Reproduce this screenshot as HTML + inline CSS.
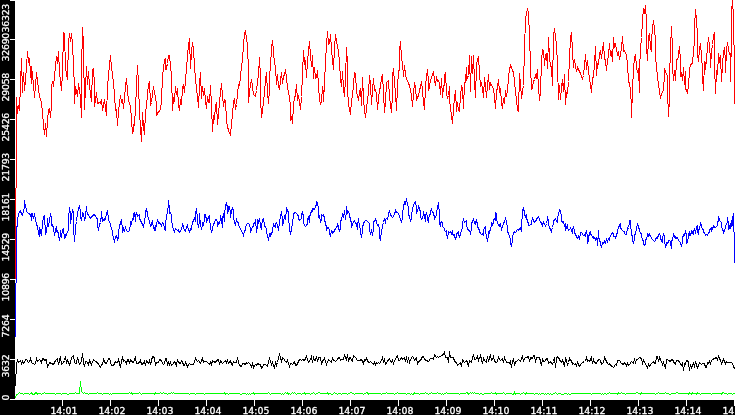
<!DOCTYPE html>
<html><head><meta charset="utf-8"><title>chart</title>
<style>html,body{margin:0;padding:0;background:#fff;overflow:hidden}body{width:735px;height:415px;position:relative}</style>
</head><body>
<svg width="735" height="415" viewBox="0 0 735 415" style="position:absolute;left:0;top:0" shape-rendering="crispEdges">
<rect x="0" y="0" width="735" height="415" fill="#fff"/>
<polyline fill="none" stroke="#ff0000" stroke-width="1" stroke-linejoin="miter" points="16.5,97.5 17.5,113.5 18.5,105.5 19.5,110.5 20.5,84.5 21.5,58.5 22.5,92.5 23.5,72.5 24.5,90.5 25.5,80.5 27.5,51.5 28.5,61.5 29.5,59.5 31.5,83.5 31.5,66.5 33.5,84.5 34.5,97.5 36.5,72.5 38.5,88.5 39.5,96.5 41.5,102.5 42.5,112.5 43.5,124.5 44.5,134.5 45.5,123.5 46.5,136.5 47.5,120.5 48.5,109.5 49.5,108.5 50.5,117.5 51.5,104.5 51.5,86.5 52.5,81.5 53.5,86.5 56.5,56.5 57.5,63.5 58.5,51.5 59.5,72.5 61.5,90.5 62.5,72.5 63.5,32.5 64.5,33.5 65.5,68.5 67.5,79.5 68.5,42.5 69.5,33.5 70.5,41.5 71.5,33.5 72.5,43.5 73.5,66.5 74.5,86.5 74.5,103.5 75.5,86.5 77.5,96.5 78.5,83.5 80.5,97.5 81.5,117.5 81.5,72.5 82.5,27.5 83.5,44.5 84.5,109.5 86.5,66.5 87.5,84.5 88.5,71.5 89.5,86.5 91.5,101.5 92.5,69.5 93.5,68.5 94.5,84.5 94.5,106.5 96.5,92.5 97.5,103.5 99.5,102.5 100.5,103.5 101.5,99.5 102.5,110.5 104.5,99.5 106.5,115.5 107.5,86.5 108.5,75.5 110.5,55.5 111.5,67.5 113.5,82.5 114.5,94.5 115.5,110.5 116.5,109.5 117.5,125.5 118.5,110.5 120.5,95.5 121.5,102.5 122.5,99.5 123.5,108.5 125.5,86.5 126.5,78.5 127.5,90.5 128.5,100.5 130.5,106.5 132.5,133.5 133.5,124.5 133.5,131.5 135.5,110.5 136.5,84.5 137.5,65.5 138.5,84.5 139.5,112.5 140.5,127.5 141.5,141.5 142.5,112.5 143.5,126.5 144.5,134.5 145.5,112.5 146.5,106.5 147.5,94.5 148.5,84.5 149.5,81.5 150.5,104.5 151.5,102.5 153.5,86.5 154.5,92.5 156.5,103.5 156.5,115.5 158.5,111.5 160.5,110.5 161.5,100.5 162.5,76.5 164.5,59.5 165.5,58.5 165.5,69.5 166.5,65.5 166.5,69.5 167.5,63.5 168.5,55.5 169.5,55.5 170.5,66.5 171.5,74.5 172.5,110.5 173.5,98.5 174.5,100.5 175.5,86.5 176.5,94.5 177.5,88.5 178.5,104.5 179.5,110.5 180.5,99.5 181.5,104.5 182.5,88.5 183.5,84.5 184.5,92.5 185.5,80.5 186.5,68.5 187.5,55.5 188.5,45.5 189.5,38.5 190.5,68.5 191.5,51.5 192.5,42.5 193.5,49.5 194.5,66.5 195.5,78.5 196.5,88.5 197.5,96.5 198.5,107.5 199.5,84.5 200.5,72.5 201.5,98.5 202.5,86.5 203.5,95.5 204.5,88.5 205.5,100.5 206.5,108.5 207.5,96.5 208.5,102.5 209.5,96.5 209.5,102.5 210.5,85.5 211.5,106.5 212.5,131.5 213.5,116.5 214.5,118.5 215.5,105.5 216.5,103.5 217.5,124.5 218.5,114.5 219.5,102.5 220.5,92.5 221.5,83.5 222.5,95.5 223.5,106.5 224.5,99.5 225.5,100.5 226.5,121.5 227.5,126.5 228.5,130.5 230.5,135.5 231.5,123.5 232.5,114.5 233.5,102.5 234.5,98.5 235.5,109.5 236.5,104.5 237.5,94.5 238.5,84.5 239.5,85.5 240.5,76.5 241.5,66.5 242.5,59.5 243.5,45.5 244.5,33.5 245.5,30.5 246.5,39.5 247.5,43.5 248.5,74.5 248.5,102.5 249.5,92.5 250.5,84.5 251.5,79.5 252.5,86.5 253.5,94.5 255.5,96.5 256.5,90.5 257.5,82.5 258.5,74.5 259.5,57.5 260.5,78.5 260.5,98.5 261.5,117.5 262.5,110.5 263.5,102.5 264.5,92.5 265.5,80.5 266.5,72.5 267.5,92.5 268.5,103.5 269.5,88.5 269.5,76.5 270.5,66.5 271.5,47.5 272.5,40.5 273.5,51.5 274.5,63.5 275.5,66.5 276.5,84.5 277.5,74.5 278.5,86.5 279.5,89.5 280.5,80.5 281.5,72.5 282.5,83.5 283.5,76.5 284.5,74.5 285.5,69.5 286.5,78.5 287.5,86.5 288.5,92.5 289.5,96.5 290.5,106.5 290.5,120.5 291.5,116.5 292.5,123.5 293.5,104.5 294.5,98.5 295.5,94.5 296.5,84.5 297.5,100.5 298.5,95.5 299.5,102.5 300.5,109.5 301.5,96.5 302.5,73.5 303.5,50.5 304.5,63.5 305.5,61.5 306.5,77.5 307.5,61.5 308.5,51.5 309.5,41.5 310.5,55.5 311.5,66.5 312.5,55.5 313.5,78.5 314.5,67.5 315.5,78.5 316.5,77.5 317.5,70.5 318.5,84.5 319.5,100.5 320.5,103.5 321.5,101.5 322.5,86.5 323.5,93.5 323.5,101.5 324.5,82.5 325.5,61.5 326.5,45.5 327.5,31.5 328.5,44.5 328.5,38.5 329.5,43.5 330.5,34.5 331.5,49.5 332.5,59.5 333.5,69.5 334.5,47.5 335.5,34.5 336.5,40.5 337.5,47.5 338.5,50.5 339.5,63.5 340.5,78.5 341.5,86.5 342.5,71.5 343.5,88.5 344.5,96.5 345.5,78.5 346.5,47.5 347.5,63.5 347.5,88.5 348.5,104.5 350.5,114.5 351.5,100.5 352.5,95.5 353.5,84.5 354.5,72.5 355.5,73.5 356.5,92.5 357.5,95.5 358.5,100.5 359.5,92.5 360.5,88.5 361.5,105.5 362.5,77.5 363.5,98.5 364.5,110.5 365.5,117.5 366.5,108.5 367.5,100.5 368.5,92.5 369.5,75.5 370.5,84.5 371.5,104.5 372.5,90.5 373.5,78.5 374.5,90.5 375.5,89.5 376.5,94.5 377.5,109.5 378.5,98.5 379.5,90.5 380.5,86.5 381.5,77.5 382.5,74.5 383.5,92.5 384.5,112.5 385.5,102.5 386.5,82.5 387.5,81.5 388.5,80.5 389.5,96.5 390.5,104.5 391.5,112.5 392.5,94.5 392.5,76.5 393.5,68.5 394.5,82.5 395.5,92.5 396.5,110.5 397.5,86.5 398.5,72.5 399.5,68.5 399.5,50.5 400.5,41.5 401.5,58.5 402.5,63.5 403.5,76.5 404.5,65.5 405.5,73.5 406.5,79.5 407.5,80.5 408.5,83.5 409.5,85.5 410.5,90.5 411.5,94.5 412.5,106.5 413.5,94.5 414.5,82.5 415.5,86.5 416.5,100.5 417.5,97.5 418.5,95.5 419.5,90.5 420.5,86.5 421.5,81.5 422.5,90.5 423.5,102.5 424.5,109.5 425.5,86.5 426.5,76.5 427.5,69.5 428.5,82.5 428.5,90.5 429.5,86.5 430.5,80.5 431.5,77.5 432.5,74.5 433.5,71.5 434.5,79.5 435.5,85.5 436.5,76.5 437.5,81.5 438.5,80.5 439.5,83.5 440.5,94.5 441.5,78.5 442.5,97.5 443.5,86.5 444.5,84.5 444.5,75.5 445.5,73.5 446.5,92.5 447.5,98.5 448.5,95.5 449.5,86.5 449.5,98.5 450.5,108.5 451.5,115.5 452.5,123.5 453.5,108.5 454.5,98.5 455.5,90.5 456.5,111.5 457.5,102.5 458.5,110.5 459.5,111.5 460.5,95.5 461.5,86.5 462.5,88.5 463.5,108.5 464.5,82.5 465.5,82.5 465.5,81.5 466.5,67.5 466.5,80.5 467.5,77.5 468.5,75.5 469.5,55.5 470.5,91.5 471.5,56.5 472.5,73.5 473.5,55.5 474.5,81.5 475.5,97.5 476.5,65.5 477.5,59.5 478.5,56.5 479.5,73.5 480.5,85.5 481.5,83.5 482.5,88.5 483.5,97.5 484.5,77.5 485.5,85.5 486.5,97.5 487.5,85.5 488.5,74.5 489.5,89.5 490.5,83.5 491.5,85.5 492.5,86.5 493.5,89.5 494.5,96.5 495.5,108.5 496.5,91.5 497.5,87.5 498.5,79.5 499.5,91.5 500.5,89.5 501.5,102.5 502.5,108.5 503.5,98.5 504.5,103.5 505.5,90.5 506.5,96.5 507.5,90.5 508.5,77.5 509.5,69.5 510.5,65.5 511.5,67.5 512.5,70.5 513.5,72.5 514.5,81.5 515.5,92.5 516.5,99.5 517.5,109.5 518.5,111.5 519.5,73.5 520.5,83.5 521.5,98.5 522.5,91.5 523.5,85.5 524.5,47.5 525.5,20.5 526.5,12.5 527.5,9.5 528.5,12.5 529.5,36.5 530.5,65.5 531.5,89.5 532.5,87.5 533.5,81.5 534.5,79.5 535.5,75.5 536.5,77.5 537.5,69.5 538.5,87.5 539.5,100.5 540.5,91.5 541.5,61.5 542.5,49.5 543.5,50.5 544.5,65.5 545.5,54.5 546.5,53.5 547.5,68.5 548.5,37.5 549.5,57.5 550.5,65.5 551.5,67.5 552.5,85.5 553.5,36.5 554.5,28.5 555.5,36.5 556.5,44.5 557.5,64.5 558.5,99.5 559.5,85.5 560.5,99.5 561.5,87.5 562.5,79.5 563.5,91.5 564.5,74.5 565.5,104.5 566.5,92.5 567.5,93.5 568.5,81.5 569.5,57.5 570.5,38.5 571.5,32.5 572.5,51.5 573.5,67.5 574.5,59.5 575.5,65.5 576.5,71.5 577.5,67.5 578.5,69.5 579.5,71.5 580.5,73.5 581.5,76.5 582.5,78.5 583.5,75.5 584.5,65.5 585.5,54.5 586.5,69.5 587.5,60.5 588.5,71.5 589.5,77.5 590.5,85.5 591.5,92.5 592.5,78.5 593.5,76.5 594.5,63.5 595.5,46.5 596.5,75.5 597.5,63.5 598.5,64.5 599.5,53.5 600.5,51.5 601.5,58.5 602.5,49.5 603.5,42.5 604.5,58.5 605.5,60.5 606.5,70.5 607.5,60.5 608.5,55.5 609.5,43.5 610.5,55.5 611.5,51.5 612.5,61.5 613.5,37.5 614.5,47.5 615.5,44.5 616.5,49.5 617.5,54.5 618.5,52.5 619.5,59.5 620.5,54.5 621.5,47.5 622.5,36.5 623.5,51.5 623.5,48.5 625.5,53.5 626.5,54.5 627.5,65.5 628.5,80.5 629.5,84.5 630.5,89.5 631.5,107.5 631.5,117.5 632.5,89.5 633.5,69.5 634.5,57.5 635.5,55.5 636.5,66.5 637.5,72.5 638.5,68.5 639.5,92.5 639.5,70.5 640.5,48.5 641.5,37.5 642.5,20.5 643.5,8.5 644.5,13.5 645.5,5.5 646.5,22.5 646.5,47.5 647.5,60.5 648.5,37.5 649.5,33.5 650.5,48.5 651.5,51.5 651.5,40.5 652.5,28.5 653.5,20.5 654.5,28.5 655.5,41.5 655.5,55.5 656.5,67.5 657.5,76.5 658.5,84.5 659.5,91.5 660.5,98.5 661.5,93.5 662.5,92.5 663.5,89.5 664.5,75.5 664.5,68.5 665.5,71.5 667.5,76.5 667.5,91.5 668.5,116.5 669.5,97.5 669.5,78.5 670.5,48.5 671.5,26.5 672.5,49.5 672.5,67.5 673.5,80.5 674.5,70.5 675.5,80.5 676.5,60.5 677.5,58.5 678.5,57.5 678.5,53.5 679.5,46.5 680.5,60.5 680.5,76.5 681.5,72.5 682.5,80.5 683.5,67.5 684.5,84.5 685.5,71.5 685.5,88.5 686.5,90.5 687.5,93.5 688.5,85.5 689.5,70.5 690.5,64.5 692.5,63.5 693.5,50.5 694.5,42.5 694.5,26.5 695.5,9.5 696.5,19.5 697.5,36.5 697.5,54.5 698.5,61.5 699.5,49.5 700.5,43.5 701.5,56.5 702.5,69.5 702.5,76.5 703.5,90.5 704.5,61.5 705.5,62.5 705.5,69.5 706.5,58.5 707.5,47.5 708.5,37.5 709.5,45.5 710.5,59.5 710.5,67.5 711.5,51.5 712.5,44.5 713.5,35.5 714.5,32.5 714.5,63.5 715.5,93.5 716.5,70.5 717.5,74.5 718.5,53.5 719.5,60.5 720.5,65.5 720.5,55.5 721.5,81.5 722.5,64.5 723.5,52.5 724.5,47.5 725.5,61.5 725.5,72.5 726.5,50.5 727.5,42.5 728.5,49.5 729.5,54.5 730.5,53.5 730.5,81.5 731.5,34.5 731.5,13.5 732.5,-1.5 733.5,19.5 734.5,69.5 734.5,70.5 734.5,103.5"/>
<polyline fill="none" stroke="#0000ff" stroke-width="1" stroke-linejoin="miter" points="17.5,226.5 17.5,219.5 18.5,214.5 19.5,211.5 20.5,210.5 21.5,214.5 22.5,215.5 23.5,211.5 24.5,206.5 24.5,200.5 25.5,206.5 25.5,204.5 26.5,211.5 27.5,212.5 28.5,213.5 29.5,213.5 30.5,215.5 31.5,213.5 31.5,220.5 32.5,213.5 33.5,218.5 34.5,213.5 35.5,219.5 35.5,218.5 36.5,224.5 37.5,226.5 38.5,232.5 39.5,236.5 39.5,227.5 40.5,231.5 41.5,235.5 42.5,223.5 42.5,224.5 43.5,216.5 44.5,215.5 45.5,234.5 46.5,230.5 47.5,223.5 47.5,218.5 48.5,226.5 49.5,220.5 50.5,213.5 51.5,219.5 51.5,225.5 52.5,224.5 53.5,228.5 54.5,235.5 55.5,230.5 56.5,226.5 56.5,231.5 57.5,230.5 58.5,234.5 59.5,240.5 60.5,233.5 60.5,230.5 61.5,237.5 62.5,229.5 63.5,228.5 64.5,238.5 65.5,234.5 65.5,237.5 66.5,234.5 67.5,231.5 68.5,230.5 68.5,218.5 69.5,207.5 70.5,214.5 70.5,223.5 71.5,216.5 72.5,209.5 73.5,213.5 73.5,227.5 74.5,241.5 75.5,228.5 75.5,227.5 76.5,221.5 77.5,213.5 78.5,208.5 79.5,206.5 80.5,211.5 80.5,216.5 81.5,220.5 82.5,213.5 83.5,215.5 83.5,213.5 84.5,220.5 85.5,216.5 86.5,206.5 86.5,210.5 87.5,213.5 88.5,215.5 89.5,216.5 90.5,218.5 91.5,217.5 92.5,215.5 94.5,214.5 95.5,216.5 96.5,217.5 97.5,219.5 97.5,224.5 98.5,230.5 99.5,224.5 100.5,222.5 101.5,214.5 101.5,211.5 102.5,221.5 103.5,220.5 104.5,218.5 104.5,220.5 105.5,219.5 106.5,213.5 107.5,211.5 108.5,218.5 108.5,219.5 109.5,222.5 110.5,223.5 111.5,229.5 112.5,230.5 112.5,234.5 113.5,237.5 114.5,242.5 115.5,236.5 116.5,235.5 117.5,239.5 118.5,237.5 118.5,231.5 119.5,226.5 120.5,222.5 121.5,220.5 122.5,229.5 122.5,232.5 123.5,228.5 124.5,230.5 125.5,227.5 126.5,230.5 127.5,231.5 128.5,231.5 129.5,230.5 130.5,224.5 130.5,221.5 131.5,224.5 132.5,218.5 133.5,219.5 133.5,213.5 134.5,212.5 135.5,221.5 135.5,216.5 136.5,212.5 137.5,216.5 138.5,215.5 139.5,214.5 139.5,218.5 140.5,220.5 141.5,222.5 142.5,224.5 143.5,227.5 144.5,221.5 145.5,214.5 145.5,211.5 146.5,209.5 147.5,213.5 147.5,215.5 148.5,218.5 149.5,221.5 150.5,226.5 151.5,225.5 151.5,223.5 152.5,221.5 153.5,227.5 154.5,229.5 155.5,225.5 155.5,230.5 156.5,224.5 157.5,219.5 158.5,223.5 159.5,222.5 160.5,224.5 160.5,223.5 161.5,225.5 162.5,222.5 163.5,223.5 164.5,228.5 165.5,230.5 165.5,224.5 166.5,216.5 167.5,211.5 168.5,204.5 168.5,200.5 169.5,208.5 169.5,213.5 170.5,212.5 171.5,215.5 171.5,219.5 172.5,226.5 173.5,229.5 174.5,231.5 175.5,228.5 176.5,229.5 177.5,230.5 178.5,229.5 178.5,231.5 179.5,232.5 180.5,230.5 181.5,229.5 182.5,225.5 182.5,223.5 183.5,227.5 184.5,230.5 185.5,231.5 186.5,227.5 187.5,224.5 187.5,227.5 188.5,228.5 189.5,232.5 190.5,228.5 191.5,229.5 191.5,227.5 192.5,222.5 193.5,220.5 194.5,218.5 195.5,221.5 195.5,214.5 196.5,208.5 197.5,218.5 197.5,222.5 198.5,227.5 199.5,220.5 199.5,213.5 200.5,225.5 201.5,228.5 202.5,225.5 202.5,222.5 203.5,224.5 204.5,219.5 204.5,214.5 205.5,214.5 206.5,220.5 206.5,222.5 207.5,219.5 208.5,217.5 209.5,215.5 209.5,219.5 210.5,226.5 211.5,232.5 212.5,229.5 212.5,227.5 213.5,224.5 214.5,222.5 215.5,219.5 216.5,219.5 217.5,222.5 217.5,226.5 218.5,222.5 219.5,223.5 220.5,219.5 220.5,215.5 221.5,219.5 222.5,227.5 222.5,219.5 223.5,213.5 224.5,221.5 224.5,213.5 225.5,206.5 226.5,202.5 227.5,208.5 227.5,213.5 228.5,210.5 228.5,206.5 229.5,206.5 230.5,213.5 230.5,217.5 231.5,210.5 232.5,208.5 233.5,210.5 233.5,216.5 234.5,222.5 235.5,224.5 236.5,219.5 237.5,222.5 238.5,222.5 238.5,224.5 239.5,227.5 240.5,228.5 241.5,231.5 242.5,232.5 243.5,235.5 244.5,231.5 245.5,229.5 245.5,227.5 246.5,224.5 247.5,223.5 248.5,223.5 249.5,224.5 250.5,229.5 250.5,232.5 251.5,228.5 252.5,227.5 253.5,225.5 253.5,224.5 254.5,222.5 255.5,222.5 255.5,219.5 256.5,232.5 257.5,226.5 257.5,219.5 258.5,222.5 259.5,218.5 260.5,225.5 261.5,229.5 261.5,227.5 262.5,219.5 263.5,218.5 264.5,225.5 265.5,227.5 266.5,228.5 266.5,231.5 267.5,236.5 268.5,239.5 269.5,234.5 270.5,236.5 270.5,233.5 271.5,234.5 272.5,230.5 273.5,224.5 274.5,226.5 275.5,227.5 275.5,223.5 276.5,222.5 277.5,225.5 278.5,230.5 279.5,222.5 279.5,221.5 280.5,216.5 281.5,211.5 282.5,219.5 282.5,225.5 283.5,221.5 284.5,216.5 285.5,218.5 286.5,209.5 286.5,207.5 287.5,210.5 288.5,212.5 288.5,219.5 289.5,226.5 289.5,230.5 290.5,233.5 291.5,229.5 292.5,222.5 293.5,216.5 293.5,214.5 294.5,212.5 295.5,212.5 296.5,213.5 297.5,214.5 298.5,216.5 298.5,218.5 299.5,220.5 300.5,219.5 301.5,218.5 301.5,214.5 302.5,211.5 303.5,217.5 303.5,222.5 304.5,225.5 305.5,226.5 306.5,225.5 307.5,223.5 307.5,219.5 308.5,216.5 309.5,222.5 309.5,217.5 310.5,213.5 311.5,211.5 312.5,208.5 312.5,211.5 313.5,208.5 314.5,209.5 315.5,206.5 316.5,204.5 316.5,201.5 317.5,202.5 318.5,209.5 318.5,216.5 319.5,218.5 319.5,215.5 320.5,222.5 321.5,218.5 321.5,214.5 322.5,215.5 323.5,214.5 324.5,218.5 324.5,219.5 325.5,223.5 326.5,227.5 326.5,230.5 327.5,227.5 328.5,227.5 329.5,230.5 329.5,233.5 330.5,236.5 331.5,230.5 332.5,231.5 332.5,233.5 333.5,232.5 334.5,230.5 335.5,228.5 336.5,227.5 337.5,225.5 337.5,223.5 338.5,227.5 339.5,231.5 340.5,227.5 340.5,222.5 341.5,218.5 342.5,215.5 342.5,213.5 343.5,217.5 344.5,211.5 344.5,210.5 345.5,219.5 346.5,211.5 346.5,206.5 347.5,213.5 347.5,210.5 348.5,212.5 349.5,213.5 349.5,215.5 350.5,219.5 351.5,223.5 351.5,227.5 352.5,224.5 353.5,221.5 354.5,220.5 355.5,223.5 355.5,222.5 356.5,224.5 357.5,229.5 357.5,225.5 358.5,218.5 358.5,220.5 359.5,225.5 360.5,230.5 360.5,233.5 361.5,236.5 362.5,231.5 362.5,227.5 363.5,223.5 364.5,221.5 365.5,220.5 366.5,220.5 366.5,220.5 367.5,221.5 368.5,222.5 369.5,223.5 369.5,228.5 370.5,234.5 371.5,230.5 371.5,229.5 372.5,235.5 373.5,228.5 373.5,222.5 374.5,220.5 375.5,220.5 375.5,219.5 375.5,218.5 376.5,222.5 377.5,225.5 378.5,224.5 379.5,229.5 379.5,236.5 380.5,240.5 381.5,230.5 382.5,227.5 382.5,225.5 383.5,222.5 384.5,218.5 385.5,223.5 385.5,219.5 386.5,218.5 387.5,219.5 388.5,214.5 388.5,213.5 389.5,211.5 390.5,214.5 391.5,216.5 391.5,216.5 392.5,217.5 393.5,216.5 394.5,213.5 395.5,211.5 395.5,209.5 396.5,212.5 397.5,212.5 398.5,213.5 398.5,213.5 399.5,216.5 400.5,219.5 401.5,221.5 402.5,218.5 402.5,213.5 403.5,206.5 404.5,202.5 404.5,201.5 405.5,204.5 406.5,198.5 406.5,198.5 407.5,204.5 408.5,207.5 408.5,213.5 409.5,217.5 410.5,220.5 411.5,218.5 411.5,214.5 412.5,209.5 413.5,204.5 414.5,203.5 414.5,202.5 415.5,201.5 416.5,208.5 416.5,213.5 417.5,210.5 418.5,207.5 418.5,205.5 419.5,208.5 420.5,212.5 420.5,216.5 421.5,219.5 422.5,218.5 423.5,213.5 423.5,211.5 424.5,216.5 425.5,221.5 425.5,215.5 426.5,213.5 427.5,216.5 427.5,218.5 428.5,222.5 428.5,218.5 429.5,215.5 430.5,213.5 430.5,211.5 431.5,209.5 432.5,212.5 432.5,211.5 433.5,213.5 434.5,217.5 434.5,219.5 435.5,216.5 436.5,215.5 436.5,213.5 437.5,206.5 438.5,204.5 438.5,202.5 439.5,214.5 439.5,222.5 440.5,226.5 440.5,222.5 441.5,221.5 442.5,223.5 442.5,226.5 443.5,227.5 444.5,228.5 444.5,230.5 445.5,231.5 446.5,230.5 446.5,234.5 447.5,237.5 448.5,232.5 448.5,231.5 449.5,232.5 450.5,231.5 451.5,233.5 452.5,230.5 452.5,233.5 453.5,235.5 454.5,234.5 454.5,236.5 455.5,238.5 456.5,236.5 456.5,234.5 457.5,232.5 458.5,231.5 458.5,234.5 459.5,236.5 460.5,234.5 460.5,233.5 461.5,230.5 462.5,227.5 462.5,222.5 463.5,219.5 464.5,222.5 464.5,222.5 465.5,221.5 466.5,220.5 466.5,225.5 467.5,228.5 468.5,230.5 468.5,229.5 469.5,230.5 470.5,233.5 471.5,228.5 471.5,223.5 472.5,221.5 473.5,219.5 473.5,219.5 474.5,222.5 475.5,224.5 475.5,222.5 476.5,220.5 477.5,224.5 477.5,226.5 478.5,228.5 479.5,230.5 479.5,231.5 480.5,233.5 481.5,234.5 482.5,233.5 483.5,235.5 483.5,230.5 484.5,227.5 485.5,226.5 485.5,230.5 486.5,236.5 487.5,241.5 488.5,234.5 488.5,231.5 489.5,233.5 489.5,232.5 490.5,228.5 491.5,225.5 491.5,222.5 492.5,224.5 493.5,222.5 493.5,219.5 494.5,218.5 495.5,220.5 495.5,218.5 495.5,212.5 496.5,214.5 496.5,219.5 497.5,222.5 498.5,225.5 499.5,226.5 499.5,224.5 500.5,223.5 501.5,230.5 501.5,228.5 502.5,226.5 503.5,223.5 504.5,221.5 505.5,218.5 505.5,217.5 506.5,222.5 507.5,227.5 507.5,230.5 508.5,234.5 508.5,233.5 509.5,236.5 510.5,239.5 510.5,243.5 511.5,245.5 512.5,240.5 512.5,236.5 513.5,233.5 514.5,231.5 515.5,232.5 516.5,231.5 516.5,230.5 517.5,229.5 518.5,230.5 519.5,228.5 520.5,229.5 520.5,227.5 521.5,231.5 521.5,223.5 522.5,214.5 522.5,210.5 523.5,208.5 524.5,212.5 524.5,214.5 525.5,216.5 526.5,214.5 526.5,217.5 527.5,221.5 528.5,223.5 528.5,225.5 529.5,225.5 530.5,224.5 531.5,224.5 531.5,221.5 532.5,218.5 533.5,220.5 534.5,222.5 534.5,222.5 535.5,221.5 536.5,219.5 537.5,217.5 538.5,216.5 538.5,216.5 539.5,219.5 540.5,222.5 540.5,221.5 541.5,223.5 542.5,226.5 542.5,224.5 543.5,222.5 544.5,224.5 545.5,225.5 545.5,226.5 546.5,223.5 547.5,219.5 547.5,216.5 548.5,222.5 548.5,225.5 549.5,226.5 549.5,227.5 550.5,229.5 551.5,232.5 551.5,230.5 552.5,227.5 553.5,223.5 553.5,221.5 554.5,219.5 555.5,218.5 555.5,219.5 556.5,220.5 557.5,222.5 557.5,218.5 558.5,213.5 559.5,210.5 559.5,209.5 560.5,211.5 561.5,216.5 561.5,220.5 562.5,222.5 563.5,221.5 563.5,222.5 564.5,225.5 565.5,223.5 565.5,230.5 566.5,227.5 567.5,224.5 567.5,227.5 568.5,230.5 569.5,229.5 570.5,228.5 570.5,227.5 571.5,230.5 572.5,233.5 572.5,229.5 573.5,227.5 574.5,230.5 574.5,232.5 575.5,234.5 576.5,236.5 576.5,237.5 577.5,238.5 578.5,236.5 578.5,235.5 579.5,238.5 580.5,234.5 580.5,232.5 581.5,232.5 582.5,233.5 582.5,234.5 583.5,235.5 584.5,234.5 585.5,236.5 585.5,233.5 586.5,230.5 587.5,237.5 587.5,243.5 588.5,240.5 588.5,237.5 589.5,233.5 590.5,231.5 590.5,233.5 591.5,235.5 592.5,236.5 593.5,238.5 593.5,236.5 594.5,237.5 595.5,239.5 595.5,240.5 596.5,238.5 597.5,241.5 597.5,245.5 598.5,230.5 598.5,236.5 599.5,240.5 600.5,242.5 600.5,244.5 601.5,246.5 602.5,243.5 602.5,242.5 603.5,243.5 604.5,241.5 604.5,240.5 605.5,242.5 606.5,239.5 606.5,238.5 607.5,241.5 608.5,238.5 608.5,239.5 609.5,240.5 609.5,238.5 610.5,235.5 611.5,234.5 611.5,233.5 612.5,232.5 613.5,234.5 613.5,236.5 614.5,236.5 615.5,236.5 615.5,236.5 615.5,238.5 616.5,234.5 617.5,232.5 617.5,230.5 618.5,227.5 619.5,225.5 620.5,223.5 620.5,227.5 621.5,229.5 622.5,230.5 623.5,231.5 624.5,231.5 624.5,233.5 625.5,234.5 626.5,234.5 627.5,227.5 627.5,230.5 628.5,227.5 629.5,223.5 629.5,220.5 630.5,220.5 630.5,225.5 631.5,232.5 632.5,238.5 632.5,240.5 633.5,242.5 634.5,239.5 634.5,236.5 635.5,232.5 636.5,229.5 636.5,227.5 637.5,224.5 638.5,226.5 638.5,227.5 639.5,229.5 639.5,231.5 640.5,232.5 641.5,234.5 641.5,236.5 642.5,239.5 643.5,241.5 643.5,244.5 644.5,245.5 645.5,243.5 645.5,240.5 646.5,238.5 647.5,235.5 647.5,233.5 648.5,235.5 649.5,233.5 649.5,234.5 650.5,236.5 651.5,237.5 651.5,238.5 652.5,239.5 653.5,240.5 653.5,240.5 654.5,241.5 655.5,240.5 655.5,239.5 656.5,237.5 657.5,238.5 657.5,237.5 658.5,235.5 658.5,234.5 659.5,233.5 660.5,236.5 660.5,238.5 661.5,240.5 662.5,242.5 662.5,237.5 663.5,234.5 664.5,236.5 664.5,240.5 665.5,247.5 666.5,243.5 666.5,242.5 667.5,243.5 668.5,241.5 668.5,240.5 669.5,240.5 670.5,241.5 670.5,243.5 671.5,248.5 671.5,242.5 672.5,238.5 673.5,235.5 673.5,233.5 674.5,236.5 675.5,238.5 675.5,236.5 676.5,238.5 677.5,237.5 677.5,238.5 678.5,239.5 678.5,240.5 679.5,241.5 680.5,242.5 680.5,243.5 681.5,245.5 682.5,242.5 682.5,238.5 683.5,234.5 684.5,233.5 684.5,235.5 685.5,230.5 686.5,236.5 686.5,243.5 687.5,242.5 688.5,236.5 688.5,233.5 689.5,235.5 689.5,231.5 690.5,234.5 691.5,232.5 691.5,230.5 692.5,232.5 693.5,234.5 693.5,231.5 694.5,229.5 695.5,231.5 695.5,233.5 696.5,227.5 697.5,225.5 697.5,230.5 698.5,234.5 698.5,231.5 699.5,227.5 700.5,224.5 700.5,222.5 701.5,225.5 701.5,227.5 702.5,228.5 703.5,230.5 703.5,231.5 704.5,233.5 705.5,234.5 705.5,235.5 706.5,234.5 707.5,235.5 707.5,234.5 708.5,233.5 709.5,231.5 709.5,230.5 710.5,228.5 711.5,227.5 711.5,231.5 712.5,228.5 713.5,226.5 713.5,225.5 714.5,227.5 715.5,227.5 715.5,227.5 716.5,226.5 717.5,225.5 717.5,223.5 718.5,219.5 718.5,216.5 719.5,219.5 719.5,220.5 720.5,221.5 721.5,222.5 721.5,226.5 722.5,229.5 723.5,231.5 723.5,233.5 724.5,230.5 725.5,227.5 725.5,225.5 726.5,224.5 727.5,221.5 727.5,217.5 728.5,224.5 728.5,229.5 729.5,225.5 729.5,228.5 730.5,223.5 730.5,228.5 731.5,224.5 731.5,220.5 732.5,225.5 732.5,218.5 733.5,213.5 733.5,224.5 734.5,238.5 734.5,262.5"/>
<polyline fill="none" stroke="#000000" stroke-width="1" stroke-linejoin="miter" points="16.5,363.5 17.5,360.5 18.5,362.5 19.5,361.5 20.5,360.5 21.5,363.5 22.5,361.5 23.5,363.5 24.5,362.5 25.5,359.5 26.5,359.5 28.5,362.5 29.5,361.5 30.5,358.5 31.5,362.5 32.5,363.5 33.5,363.5 34.5,364.5 35.5,363.5 36.5,358.5 37.5,361.5 39.5,359.5 40.5,360.5 41.5,362.5 42.5,358.5 43.5,358.5 44.5,360.5 46.5,359.5 47.5,367.5 49.5,362.5 51.5,363.5 53.5,364.5 54.5,362.5 55.5,360.5 57.5,358.5 58.5,364.5 60.5,356.5 61.5,364.5 63.5,362.5 64.5,360.5 65.5,356.5 66.5,363.5 67.5,360.5 69.5,364.5 70.5,362.5 71.5,357.5 73.5,355.5 74.5,362.5 75.5,363.5 76.5,363.5 77.5,357.5 79.5,364.5 81.5,361.5 82.5,353.5 83.5,362.5 84.5,366.5 85.5,361.5 86.5,361.5 87.5,362.5 88.5,364.5 89.5,360.5 91.5,364.5 93.5,359.5 95.5,361.5 97.5,362.5 98.5,364.5 100.5,367.5 101.5,364.5 102.5,364.5 103.5,359.5 104.5,361.5 105.5,363.5 107.5,362.5 108.5,358.5 109.5,358.5 111.5,365.5 113.5,365.5 115.5,361.5 116.5,362.5 117.5,362.5 118.5,359.5 119.5,363.5 120.5,367.5 121.5,360.5 122.5,357.5 123.5,361.5 124.5,360.5 125.5,361.5 126.5,363.5 127.5,359.5 128.5,359.5 129.5,363.5 130.5,359.5 131.5,360.5 132.5,362.5 133.5,362.5 134.5,359.5 135.5,357.5 136.5,363.5 137.5,363.5 139.5,362.5 140.5,360.5 141.5,364.5 143.5,363.5 144.5,361.5 145.5,365.5 146.5,360.5 148.5,363.5 149.5,360.5 150.5,364.5 152.5,356.5 154.5,357.5 155.5,365.5 156.5,362.5 158.5,362.5 159.5,359.5 161.5,360.5 162.5,363.5 163.5,364.5 164.5,363.5 165.5,358.5 166.5,358.5 167.5,364.5 168.5,362.5 169.5,364.5 170.5,362.5 171.5,365.5 172.5,364.5 174.5,361.5 176.5,365.5 177.5,359.5 178.5,362.5 180.5,363.5 181.5,360.5 182.5,361.5 183.5,365.5 184.5,365.5 185.5,362.5 187.5,366.5 188.5,364.5 189.5,363.5 190.5,364.5 192.5,364.5 193.5,364.5 195.5,358.5 196.5,360.5 197.5,361.5 198.5,360.5 200.5,363.5 201.5,360.5 202.5,358.5 203.5,362.5 204.5,361.5 206.5,361.5 207.5,362.5 209.5,364.5 210.5,362.5 211.5,364.5 212.5,360.5 213.5,361.5 215.5,362.5 216.5,360.5 218.5,359.5 219.5,364.5 220.5,360.5 222.5,363.5 224.5,361.5 225.5,360.5 226.5,362.5 227.5,360.5 228.5,363.5 230.5,360.5 231.5,364.5 232.5,365.5 233.5,361.5 234.5,362.5 235.5,362.5 236.5,362.5 237.5,358.5 239.5,365.5 241.5,366.5 242.5,363.5 243.5,363.5 245.5,364.5 246.5,362.5 247.5,363.5 248.5,362.5 249.5,363.5 250.5,364.5 251.5,366.5 252.5,363.5 253.5,367.5 254.5,365.5 255.5,364.5 256.5,365.5 257.5,363.5 259.5,364.5 260.5,364.5 261.5,368.5 262.5,367.5 263.5,364.5 265.5,364.5 267.5,366.5 269.5,358.5 270.5,361.5 271.5,364.5 272.5,362.5 274.5,368.5 275.5,361.5 276.5,365.5 277.5,362.5 279.5,354.5 281.5,361.5 282.5,357.5 283.5,358.5 285.5,361.5 286.5,362.5 287.5,360.5 288.5,363.5 289.5,366.5 290.5,363.5 291.5,363.5 292.5,364.5 294.5,361.5 295.5,365.5 296.5,365.5 297.5,363.5 299.5,359.5 300.5,359.5 301.5,360.5 302.5,359.5 304.5,360.5 306.5,356.5 307.5,359.5 308.5,362.5 309.5,361.5 311.5,356.5 312.5,362.5 313.5,357.5 314.5,360.5 315.5,360.5 316.5,356.5 317.5,361.5 318.5,357.5 320.5,357.5 321.5,364.5 322.5,360.5 323.5,360.5 324.5,358.5 325.5,361.5 326.5,364.5 328.5,359.5 330.5,361.5 331.5,362.5 332.5,358.5 333.5,360.5 334.5,360.5 335.5,361.5 336.5,360.5 337.5,359.5 338.5,357.5 339.5,357.5 340.5,360.5 341.5,359.5 343.5,359.5 344.5,355.5 346.5,359.5 347.5,354.5 348.5,361.5 349.5,357.5 350.5,357.5 351.5,360.5 352.5,361.5 353.5,355.5 355.5,357.5 357.5,360.5 359.5,360.5 361.5,359.5 363.5,363.5 364.5,359.5 365.5,360.5 366.5,358.5 368.5,362.5 369.5,362.5 370.5,361.5 371.5,362.5 373.5,364.5 374.5,362.5 375.5,364.5 376.5,362.5 377.5,363.5 378.5,362.5 379.5,363.5 380.5,362.5 382.5,357.5 383.5,362.5 384.5,358.5 385.5,364.5 387.5,361.5 388.5,359.5 389.5,358.5 390.5,361.5 391.5,362.5 392.5,360.5 393.5,363.5 395.5,358.5 397.5,355.5 398.5,360.5 399.5,360.5 401.5,357.5 402.5,359.5 404.5,357.5 405.5,361.5 406.5,356.5 407.5,362.5 408.5,357.5 409.5,362.5 410.5,359.5 412.5,356.5 413.5,357.5 414.5,360.5 416.5,357.5 417.5,363.5 418.5,361.5 420.5,360.5 422.5,356.5 423.5,356.5 424.5,359.5 426.5,360.5 428.5,361.5 430.5,358.5 432.5,358.5 433.5,359.5 434.5,354.5 436.5,357.5 437.5,356.5 438.5,357.5 439.5,356.5 440.5,356.5 441.5,355.5 443.5,354.5 444.5,352.5 445.5,357.5 447.5,357.5 448.5,362.5 449.5,351.5 450.5,357.5 451.5,357.5 453.5,357.5 454.5,361.5 456.5,362.5 457.5,365.5 459.5,363.5 460.5,362.5 461.5,366.5 462.5,359.5 464.5,362.5 465.5,361.5 466.5,360.5 467.5,362.5 468.5,366.5 469.5,360.5 470.5,361.5 471.5,362.5 472.5,358.5 473.5,354.5 474.5,359.5 475.5,359.5 476.5,358.5 477.5,356.5 478.5,360.5 480.5,355.5 481.5,359.5 482.5,363.5 483.5,358.5 484.5,360.5 486.5,362.5 487.5,356.5 488.5,361.5 489.5,357.5 490.5,355.5 491.5,360.5 492.5,359.5 493.5,356.5 494.5,361.5 496.5,362.5 497.5,361.5 498.5,357.5 499.5,359.5 500.5,360.5 502.5,358.5 503.5,362.5 504.5,357.5 506.5,362.5 507.5,362.5 508.5,362.5 509.5,363.5 510.5,361.5 511.5,367.5 512.5,361.5 513.5,358.5 514.5,365.5 515.5,361.5 516.5,361.5 518.5,359.5 520.5,361.5 522.5,355.5 523.5,361.5 524.5,358.5 525.5,357.5 526.5,357.5 528.5,356.5 529.5,361.5 530.5,357.5 532.5,358.5 533.5,355.5 534.5,355.5 535.5,362.5 536.5,357.5 537.5,357.5 539.5,357.5 541.5,365.5 542.5,359.5 543.5,361.5 544.5,361.5 545.5,360.5 546.5,358.5 547.5,358.5 548.5,363.5 550.5,361.5 551.5,363.5 552.5,364.5 553.5,361.5 554.5,357.5 555.5,367.5 556.5,358.5 557.5,356.5 558.5,357.5 560.5,361.5 561.5,362.5 562.5,360.5 563.5,362.5 564.5,366.5 565.5,357.5 567.5,364.5 568.5,362.5 569.5,358.5 570.5,360.5 571.5,360.5 572.5,364.5 573.5,363.5 574.5,364.5 575.5,363.5 576.5,365.5 577.5,362.5 578.5,364.5 579.5,366.5 581.5,363.5 582.5,362.5 584.5,361.5 585.5,360.5 586.5,357.5 587.5,361.5 588.5,360.5 589.5,361.5 591.5,357.5 592.5,363.5 593.5,359.5 594.5,362.5 596.5,363.5 597.5,360.5 599.5,359.5 600.5,360.5 601.5,364.5 603.5,362.5 604.5,357.5 605.5,359.5 606.5,361.5 607.5,363.5 608.5,364.5 609.5,363.5 610.5,365.5 612.5,366.5 613.5,367.5 615.5,364.5 616.5,365.5 617.5,360.5 618.5,360.5 619.5,360.5 621.5,363.5 623.5,364.5 624.5,362.5 625.5,363.5 626.5,365.5 627.5,363.5 628.5,365.5 629.5,364.5 631.5,361.5 633.5,363.5 634.5,359.5 635.5,362.5 636.5,359.5 637.5,359.5 639.5,357.5 641.5,358.5 642.5,363.5 643.5,360.5 644.5,362.5 646.5,365.5 647.5,367.5 648.5,364.5 649.5,366.5 651.5,363.5 652.5,362.5 653.5,361.5 654.5,363.5 655.5,363.5 656.5,356.5 657.5,356.5 658.5,361.5 659.5,357.5 660.5,359.5 662.5,364.5 663.5,362.5 665.5,368.5 666.5,359.5 667.5,359.5 668.5,360.5 670.5,361.5 671.5,359.5 672.5,359.5 674.5,363.5 675.5,364.5 676.5,360.5 678.5,360.5 679.5,362.5 681.5,365.5 682.5,362.5 683.5,370.5 684.5,363.5 685.5,364.5 686.5,360.5 687.5,360.5 688.5,362.5 689.5,370.5 690.5,364.5 691.5,367.5 693.5,363.5 694.5,366.5 695.5,361.5 696.5,365.5 697.5,367.5 698.5,365.5 699.5,362.5 701.5,364.5 702.5,363.5 704.5,363.5 705.5,367.5 706.5,367.5 707.5,362.5 708.5,363.5 709.5,361.5 710.5,363.5 711.5,360.5 712.5,359.5 714.5,358.5 716.5,357.5 717.5,359.5 718.5,356.5 719.5,358.5 720.5,360.5 721.5,363.5 722.5,361.5 723.5,359.5 725.5,363.5 726.5,361.5 727.5,362.5 729.5,362.5 731.5,362.5 733.5,365.5 734.5,369.5"/>
<polyline fill="none" stroke="#00ff00" stroke-width="1" stroke-linejoin="miter" points="16.5,394.5 17.5,394.5 18.5,393.5 19.5,392.5 20.5,393.5 21.5,393.5 22.5,393.5 23.5,394.5 24.5,393.5 25.5,393.5 26.5,393.5 27.5,393.5 28.5,393.5 29.5,394.5 30.5,393.5 31.5,392.5 32.5,394.5 33.5,394.5 34.5,394.5 35.5,392.5 36.5,392.5 37.5,394.5 38.5,393.5 39.5,393.5 40.5,393.5 41.5,394.5 42.5,393.5 43.5,393.5 44.5,392.5 45.5,393.5 46.5,393.5 47.5,393.5 48.5,393.5 49.5,393.5 50.5,393.5 51.5,393.5 52.5,393.5 53.5,393.5 54.5,393.5 55.5,394.5 56.5,393.5 57.5,393.5 58.5,393.5 59.5,393.5 60.5,393.5 61.5,394.5 62.5,393.5 63.5,393.5 64.5,393.5 65.5,393.5 66.5,393.5 67.5,394.5 68.5,394.5 69.5,393.5 70.5,393.5 71.5,393.5 72.5,393.5 73.5,393.5 74.5,393.5 75.5,392.5 76.5,393.5 77.5,393.5 78.5,393.5 79.5,393.5 80.5,381.5 81.5,391.5 82.5,392.5 83.5,393.5 84.5,392.5 85.5,393.5 86.5,393.5 87.5,393.5 88.5,394.5 89.5,393.5 90.5,393.5 91.5,393.5 92.5,393.5 93.5,393.5 94.5,393.5 95.5,393.5 96.5,393.5 97.5,392.5 98.5,393.5 99.5,393.5 100.5,393.5 101.5,393.5 102.5,394.5 103.5,393.5 104.5,393.5 105.5,393.5 106.5,393.5 107.5,393.5 108.5,393.5 109.5,394.5 110.5,393.5 111.5,394.5 112.5,393.5 113.5,393.5 114.5,393.5 115.5,393.5 116.5,393.5 117.5,393.5 118.5,393.5 119.5,393.5 120.5,393.5 121.5,393.5 122.5,393.5 123.5,393.5 124.5,393.5 125.5,393.5 126.5,393.5 127.5,393.5 128.5,393.5 129.5,392.5 130.5,393.5 131.5,392.5 132.5,394.5 133.5,393.5 134.5,393.5 135.5,393.5 136.5,393.5 137.5,393.5 138.5,393.5 139.5,392.5 140.5,393.5 141.5,394.5 142.5,393.5 143.5,393.5 144.5,393.5 145.5,393.5 146.5,393.5 147.5,393.5 148.5,393.5 149.5,393.5 150.5,393.5 151.5,393.5 152.5,393.5 153.5,393.5 154.5,394.5 155.5,392.5 156.5,393.5 157.5,393.5 158.5,393.5 159.5,393.5 160.5,392.5 161.5,393.5 162.5,393.5 163.5,392.5 164.5,393.5 165.5,393.5 166.5,393.5 167.5,394.5 168.5,393.5 169.5,393.5 170.5,393.5 171.5,392.5 172.5,393.5 173.5,392.5 174.5,393.5 175.5,393.5 176.5,393.5 177.5,393.5 178.5,393.5 179.5,393.5 180.5,393.5 181.5,393.5 182.5,393.5 183.5,393.5 184.5,393.5 185.5,393.5 186.5,393.5 187.5,393.5 188.5,393.5 189.5,394.5 190.5,393.5 191.5,393.5 192.5,393.5 193.5,393.5 194.5,393.5 195.5,394.5 196.5,393.5 197.5,393.5 198.5,393.5 199.5,393.5 200.5,393.5 201.5,393.5 202.5,393.5 203.5,393.5 204.5,394.5 205.5,393.5 206.5,393.5 207.5,393.5 208.5,393.5 209.5,393.5 210.5,393.5 211.5,393.5 212.5,393.5 213.5,393.5 214.5,393.5 215.5,393.5 216.5,393.5 217.5,393.5 218.5,393.5 219.5,393.5 220.5,393.5 221.5,393.5 222.5,393.5 223.5,393.5 224.5,392.5 225.5,394.5 226.5,393.5 227.5,393.5 228.5,394.5 229.5,393.5 230.5,393.5 231.5,393.5 232.5,393.5 233.5,393.5 234.5,393.5 235.5,393.5 236.5,393.5 237.5,393.5 238.5,393.5 239.5,393.5 240.5,394.5 241.5,394.5 242.5,393.5 243.5,393.5 244.5,393.5 245.5,393.5 246.5,394.5 247.5,393.5 248.5,394.5 249.5,393.5 250.5,394.5 251.5,393.5 252.5,393.5 253.5,392.5 254.5,394.5 255.5,393.5 256.5,393.5 257.5,393.5 258.5,393.5 259.5,393.5 260.5,393.5 261.5,393.5 262.5,393.5 263.5,393.5 264.5,393.5 265.5,393.5 266.5,393.5 267.5,393.5 268.5,392.5 269.5,393.5 270.5,394.5 271.5,393.5 272.5,393.5 273.5,393.5 274.5,393.5 275.5,393.5 276.5,393.5 277.5,393.5 278.5,393.5 279.5,393.5 280.5,393.5 281.5,394.5 282.5,393.5 283.5,394.5 284.5,393.5 285.5,392.5 286.5,393.5 287.5,392.5 288.5,394.5 289.5,393.5 290.5,394.5 291.5,393.5 292.5,392.5 293.5,393.5 294.5,392.5 295.5,393.5 296.5,394.5 297.5,393.5 298.5,393.5 299.5,393.5 300.5,393.5 301.5,394.5 302.5,393.5 303.5,393.5 304.5,392.5 305.5,394.5 306.5,393.5 307.5,393.5 308.5,393.5 309.5,393.5 310.5,394.5 311.5,393.5 312.5,393.5 313.5,392.5 314.5,393.5 315.5,394.5 316.5,393.5 317.5,393.5 318.5,392.5 319.5,392.5 320.5,393.5 321.5,393.5 322.5,393.5 323.5,393.5 324.5,393.5 325.5,393.5 326.5,393.5 327.5,392.5 328.5,394.5 329.5,393.5 330.5,393.5 331.5,394.5 332.5,394.5 333.5,393.5 334.5,392.5 335.5,393.5 336.5,393.5 337.5,394.5 338.5,393.5 339.5,393.5 340.5,393.5 341.5,394.5 342.5,393.5 343.5,393.5 344.5,393.5 345.5,393.5 346.5,393.5 347.5,394.5 348.5,393.5 349.5,393.5 350.5,392.5 351.5,392.5 352.5,393.5 353.5,393.5 354.5,394.5 355.5,393.5 356.5,393.5 357.5,393.5 358.5,393.5 359.5,393.5 360.5,393.5 361.5,393.5 362.5,393.5 363.5,394.5 364.5,393.5 365.5,393.5 366.5,392.5 367.5,392.5 368.5,394.5 369.5,393.5 370.5,393.5 371.5,393.5 372.5,393.5 373.5,393.5 374.5,393.5 375.5,393.5 376.5,393.5 377.5,393.5 378.5,393.5 379.5,393.5 380.5,393.5 381.5,394.5 382.5,393.5 383.5,393.5 384.5,393.5 385.5,393.5 386.5,392.5 387.5,393.5 388.5,393.5 389.5,393.5 390.5,393.5 391.5,393.5 392.5,393.5 393.5,393.5 394.5,394.5 395.5,393.5 396.5,393.5 397.5,392.5 398.5,393.5 399.5,393.5 400.5,393.5 401.5,393.5 402.5,393.5 403.5,393.5 404.5,393.5 405.5,393.5 406.5,394.5 407.5,393.5 408.5,393.5 409.5,393.5 410.5,394.5 411.5,393.5 412.5,394.5 413.5,394.5 414.5,392.5 415.5,393.5 416.5,393.5 417.5,393.5 418.5,393.5 419.5,394.5 420.5,393.5 421.5,393.5 422.5,393.5 423.5,393.5 424.5,393.5 425.5,392.5 426.5,393.5 427.5,393.5 428.5,394.5 429.5,393.5 430.5,393.5 431.5,392.5 432.5,393.5 433.5,393.5 434.5,393.5 435.5,393.5 436.5,393.5 437.5,392.5 438.5,393.5 439.5,393.5 440.5,393.5 441.5,394.5 442.5,393.5 443.5,394.5 444.5,393.5 445.5,393.5 446.5,392.5 447.5,393.5 448.5,393.5 449.5,393.5 450.5,393.5 451.5,393.5 452.5,393.5 453.5,393.5 454.5,393.5 455.5,393.5 456.5,393.5 457.5,393.5 458.5,393.5 459.5,394.5 460.5,393.5 461.5,393.5 462.5,393.5 463.5,393.5 464.5,393.5 465.5,393.5 466.5,392.5 467.5,392.5 468.5,394.5 469.5,393.5 470.5,392.5 471.5,393.5 472.5,392.5 473.5,393.5 474.5,392.5 475.5,393.5 476.5,393.5 477.5,393.5 478.5,393.5 479.5,394.5 480.5,393.5 481.5,393.5 482.5,394.5 483.5,394.5 484.5,393.5 485.5,393.5 486.5,393.5 487.5,393.5 488.5,393.5 489.5,393.5 490.5,393.5 491.5,392.5 492.5,393.5 493.5,393.5 494.5,393.5 495.5,392.5 496.5,394.5 497.5,393.5 498.5,393.5 499.5,393.5 500.5,393.5 501.5,393.5 502.5,393.5 503.5,392.5 504.5,393.5 505.5,394.5 506.5,393.5 507.5,393.5 508.5,393.5 509.5,393.5 510.5,393.5 511.5,393.5 512.5,394.5 513.5,394.5 514.5,392.5 515.5,394.5 516.5,393.5 517.5,393.5 518.5,393.5 519.5,393.5 520.5,394.5 521.5,393.5 522.5,393.5 523.5,392.5 524.5,393.5 525.5,394.5 526.5,392.5 527.5,393.5 528.5,393.5 529.5,393.5 530.5,393.5 531.5,393.5 532.5,393.5 533.5,393.5 534.5,394.5 535.5,393.5 536.5,393.5 537.5,393.5 538.5,394.5 539.5,393.5 540.5,394.5 541.5,393.5 542.5,393.5 543.5,393.5 544.5,394.5 545.5,393.5 546.5,394.5 547.5,393.5 548.5,393.5 549.5,394.5 550.5,393.5 551.5,394.5 552.5,394.5 553.5,393.5 554.5,393.5 555.5,392.5 556.5,393.5 557.5,394.5 558.5,393.5 559.5,393.5 560.5,393.5 561.5,394.5 562.5,394.5 563.5,394.5 564.5,393.5 565.5,393.5 566.5,393.5 567.5,394.5 568.5,393.5 569.5,394.5 570.5,394.5 571.5,393.5 572.5,393.5 573.5,393.5 574.5,393.5 575.5,393.5 576.5,393.5 577.5,393.5 578.5,393.5 579.5,393.5 580.5,393.5 581.5,393.5 582.5,393.5 583.5,393.5 584.5,393.5 585.5,393.5 586.5,393.5 587.5,393.5 588.5,393.5 589.5,393.5 590.5,393.5 591.5,394.5 592.5,393.5 593.5,393.5 594.5,393.5 595.5,393.5 596.5,393.5 597.5,393.5 598.5,393.5 599.5,393.5 600.5,393.5 601.5,394.5 602.5,393.5 603.5,394.5 604.5,393.5 605.5,393.5 606.5,394.5 607.5,393.5 608.5,393.5 609.5,392.5 610.5,393.5 611.5,393.5 612.5,393.5 613.5,393.5 614.5,393.5 615.5,393.5 616.5,393.5 617.5,394.5 618.5,392.5 619.5,393.5 620.5,393.5 621.5,392.5 622.5,393.5 623.5,393.5 624.5,393.5 625.5,394.5 626.5,393.5 627.5,393.5 628.5,393.5 629.5,393.5 630.5,393.5 631.5,393.5 632.5,393.5 633.5,393.5 634.5,393.5 635.5,393.5 636.5,392.5 637.5,392.5 638.5,393.5 639.5,393.5 640.5,394.5 641.5,392.5 642.5,393.5 643.5,393.5 644.5,393.5 645.5,393.5 646.5,393.5 647.5,393.5 648.5,393.5 649.5,393.5 650.5,393.5 651.5,393.5 652.5,393.5 653.5,393.5 654.5,393.5 655.5,394.5 656.5,393.5 657.5,393.5 658.5,392.5 659.5,393.5 660.5,393.5 661.5,393.5 662.5,393.5 663.5,393.5 664.5,393.5 665.5,392.5 666.5,393.5 667.5,393.5 668.5,393.5 669.5,394.5 670.5,394.5 671.5,393.5 672.5,393.5 673.5,393.5 674.5,393.5 675.5,393.5 676.5,392.5 677.5,392.5 678.5,393.5 679.5,393.5 680.5,393.5 681.5,393.5 682.5,393.5 683.5,393.5 684.5,393.5 685.5,393.5 686.5,393.5 687.5,393.5 688.5,394.5 689.5,392.5 690.5,393.5 691.5,394.5 692.5,392.5 693.5,393.5 694.5,393.5 695.5,393.5 696.5,394.5 697.5,392.5 698.5,393.5 699.5,393.5 700.5,394.5 701.5,393.5 702.5,393.5 703.5,393.5 704.5,393.5 705.5,393.5 706.5,393.5 707.5,393.5 708.5,393.5 709.5,393.5 710.5,393.5 711.5,394.5 712.5,393.5 713.5,393.5 714.5,393.5 715.5,393.5 716.5,393.5 717.5,393.5 718.5,393.5 719.5,393.5 720.5,393.5 721.5,394.5 722.5,392.5 723.5,392.5 724.5,393.5 725.5,393.5 726.5,393.5 727.5,394.5 728.5,393.5 729.5,393.5 730.5,393.5 731.5,393.5 732.5,394.5 733.5,393.5 734.5,393.5"/>
<rect x="0" y="0" width="10" height="1" fill="#000"/>
<rect x="0" y="1" width="15" height="398" fill="#000"/>
<rect x="0" y="399" width="10" height="1" fill="#000"/>
<rect x="0" y="400" width="735" height="15" fill="#000"/>
<rect x="16" y="97" width="1" height="91" fill="#f00"/>
<rect x="15" y="188" width="1" height="91" fill="#f00"/>
<rect x="16" y="226" width="1" height="57" fill="#00f"/>
<rect x="15" y="283" width="1" height="54" fill="#00f"/>
<rect x="16" y="363" width="1" height="11" fill="#000"/>
<rect x="15" y="374" width="1" height="12" fill="#000"/>
<rect x="15" y="396" width="1" height="2" fill="#0f0"/>
<rect x="16" y="394" width="1" height="2" fill="#0f0"/>
<rect x="10" y="359" width="5" height="1" fill="#fff"/>
<rect x="10" y="319" width="5" height="1" fill="#fff"/>
<rect x="10" y="279" width="5" height="1" fill="#fff"/>
<rect x="10" y="239" width="5" height="1" fill="#fff"/>
<rect x="10" y="199" width="5" height="1" fill="#fff"/>
<rect x="10" y="159" width="5" height="1" fill="#fff"/>
<rect x="10" y="119" width="5" height="1" fill="#fff"/>
<rect x="10" y="79" width="5" height="1" fill="#fff"/>
<rect x="10" y="39" width="5" height="1" fill="#fff"/>
<rect x="62" y="400" width="1" height="6" fill="#fff"/>
<rect x="110" y="400" width="1" height="6" fill="#fff"/>
<rect x="158" y="400" width="1" height="6" fill="#fff"/>
<rect x="206" y="400" width="1" height="6" fill="#fff"/>
<rect x="254" y="400" width="1" height="6" fill="#fff"/>
<rect x="302" y="400" width="1" height="6" fill="#fff"/>
<rect x="350" y="400" width="1" height="6" fill="#fff"/>
<rect x="398" y="400" width="1" height="6" fill="#fff"/>
<rect x="446" y="400" width="1" height="6" fill="#fff"/>
<rect x="494" y="400" width="1" height="6" fill="#fff"/>
<rect x="542" y="400" width="1" height="6" fill="#fff"/>
<rect x="590" y="400" width="1" height="6" fill="#fff"/>
<rect x="638" y="400" width="1" height="6" fill="#fff"/>
<rect x="686" y="400" width="1" height="6" fill="#fff"/>
<rect x="734" y="400" width="1" height="6" fill="#fff"/>
<g fill="#fff" font-family="'DejaVu Sans','Liberation Sans',sans-serif" font-size="9.4" stroke="#fff" stroke-width="0.3" style="opacity:0.999">
<text x="63.9" y="414" text-anchor="middle">14:01</text>
<text x="111.9" y="414" text-anchor="middle">14:02</text>
<text x="159.9" y="414" text-anchor="middle">14:03</text>
<text x="207.9" y="414" text-anchor="middle">14:04</text>
<text x="255.9" y="414" text-anchor="middle">14:05</text>
<text x="303.9" y="414" text-anchor="middle">14:06</text>
<text x="351.9" y="414" text-anchor="middle">14:07</text>
<text x="399.9" y="414" text-anchor="middle">14:08</text>
<text x="447.9" y="414" text-anchor="middle">14:09</text>
<text x="495.9" y="414" text-anchor="middle">14:10</text>
<text x="543.9" y="414" text-anchor="middle">14:11</text>
<text x="591.9" y="414" text-anchor="middle">14:12</text>
<text x="639.9" y="414" text-anchor="middle">14:13</text>
<text x="687.9" y="414" text-anchor="middle">14:14</text>
<text x="735.9" y="414" text-anchor="middle">14:15</text>
<text transform="translate(9,400.5) rotate(-90)" letter-spacing="-0.25">0</text>
<text transform="translate(9,377.5) rotate(-90)" letter-spacing="-0.25">3632</text>
<text transform="translate(9,337.5) rotate(-90)" letter-spacing="-0.25">7264</text>
<text transform="translate(9,301.5) rotate(-90)" letter-spacing="-0.25">10896</text>
<text transform="translate(9,261.5) rotate(-90)" letter-spacing="-0.25">14529</text>
<text transform="translate(9,221.5) rotate(-90)" letter-spacing="-0.25">18161</text>
<text transform="translate(9,181.5) rotate(-90)" letter-spacing="-0.25">21793</text>
<text transform="translate(9,141.5) rotate(-90)" letter-spacing="-0.25">25426</text>
<text transform="translate(9,101.5) rotate(-90)" letter-spacing="-0.25">29058</text>
<text transform="translate(9,61.5) rotate(-90)" letter-spacing="-0.25">32690</text>
<text transform="translate(9,32.5) rotate(-90)" letter-spacing="-0.25">36323</text>
</g>
</svg>
</body></html>
